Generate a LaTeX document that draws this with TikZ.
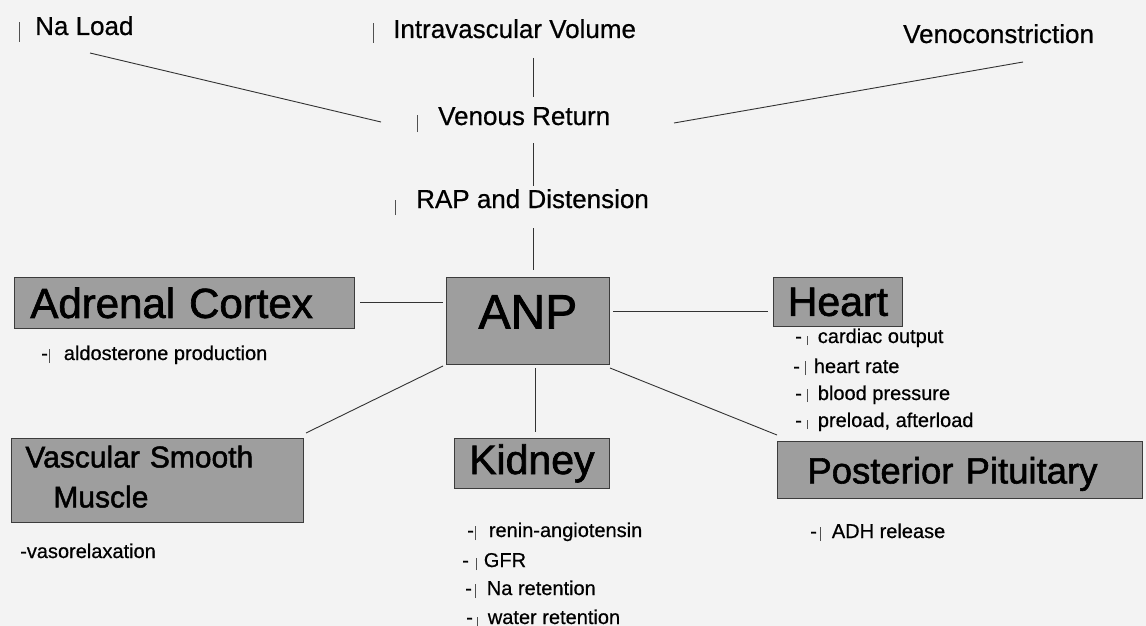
\documentclass[tikz,border=0pt]{standalone}
\usepackage{fontspec}
\setmainfont[FakeBold=0.6]{Liberation Sans}
\newfontfamily\boxfont[FakeBold=1.6]{Liberation Sans}
\definecolor{bg}{RGB}{243,243,243}
\definecolor{boxfill}{RGB}{158,158,158}
\definecolor{boxline}{RGB}{60,60,60}
\definecolor{barc}{RGB}{80,80,80}
\definecolor{linec}{RGB}{50,50,50}
\newcommand{\tbar}[2]{\textcolor{barc}{\rule[-#1pt]{1pt}{#2pt}}}
\begin{document}
\begin{tikzpicture}[x=1pt,y=-1pt,
  toplbl/.style={anchor=base west, inner sep=0pt, font=\fontsize{26}{30}\selectfont},
  item/.style={anchor=base west, inner sep=0pt, font=\fontsize{20}{24}\selectfont},
  organ/.style={draw=boxline, fill=boxfill, line width=0.8pt, inner sep=0pt, anchor=north west},
  conn/.style={draw=linec, line width=0.9pt}]
\fill[bg] (0,0) rectangle (1146,626);
\useasboundingbox (0,0) rectangle (1146,626);

% top labels
\node[toplbl] (nal) at (19,35) {\tbar{7}{20}\hspace{15pt}Na Load};
\node[toplbl] (ivv) at (373,38) {\tbar{5}{20}\hspace{19pt}Intravascular Volume};
\node[toplbl] (vc) at (903,43) {Venoconstriction};
\node[toplbl] (vr) at (417,125) {\tbar{7}{17}\hspace{20pt}Venous Return};
\node[toplbl] (rap) at (395,208) {\tbar{7}{15}\hspace{20pt}RAP and Distension};

% organ boxes
\node[organ, minimum height=51pt, inner xsep=16pt, text width=308pt, align=left,
      font=\boxfont\fontsize{42}{48}\selectfont] (adr) at (14,277) {Adrenal Cortex};
\node[organ, minimum width=163pt, minimum height=87pt, text height=35pt, text depth=20pt,
      font=\boxfont\fontsize{48}{54}\selectfont] (anp) at (446,277) {ANP};
\node[organ, minimum width=129pt, minimum height=49pt,
      font=\boxfont\fontsize{41}{46}\selectfont] (heart) at (773,277) {Heart};
\node[organ, minimum width=155pt, minimum height=50pt,
      font=\boxfont\fontsize{41}{46}\selectfont] (kid) at (454,438) {Kidney};
\node[organ, minimum height=57pt, inner xsep=30pt, text width=305pt, align=left,
      text height=27pt, text depth=0pt,
      font=\boxfont\fontsize{36.5}{42}\selectfont] (pp) at (777,441) {Posterior Pituitary};
\node[organ, minimum height=84pt, inner xsep=14pt, text width=264pt, align=left,
      text height=14pt, text depth=40pt,
      font=\boxfont\fontsize{30}{40}\selectfont] (vsm) at (11,438) {Vascular Smooth\\\hspace*{28pt}Muscle};

% effect lists
\node[item] (ald) at (41,360) {-\hspace{1pt}\tbar{3}{14}\hspace{14pt}aldosterone production};
\node[item] (h1) at (795,343) {-\hspace{5pt}\tbar{2}{9}\hspace{10pt}cardiac output};
\node[item] (h2) at (793,373) {-\hspace{5pt}\tbar{2}{14}\hspace{8pt}heart rate};
\node[item] (h3) at (795,400) {-\hspace{5pt}\tbar{2}{13}\hspace{10pt}blood pressure};
\node[item] (h4) at (795,427) {-\hspace{5pt}\tbar{2}{9}\hspace{10pt}preload, afterload};
\node[item] (vaso) at (20,558) {-vasorelaxation};
\node[item] (adh) at (810,538) {-\hspace{3pt}\tbar{3}{14}\hspace{11pt}ADH release};
\node[item] (k1) at (467,537) {-\hspace{1pt}\tbar{3}{14}\hspace{13pt}renin-angiotensin};
\node[item] (k2) at (462,567) {-\hspace{7pt}\tbar{3}{12}\hspace{7pt}GFR};
\node[item] (k3) at (465,595) {-\hspace{3pt}\tbar{3}{14}\hspace{11pt}Na retention};
\node[item] (k4) at (466,624) {-\hspace{4pt}\tbar{3}{10}\hspace{10pt}water retention};

% connector end points
\coordinate (nalE) at (90,53);
\coordinate (vrW) at (381,122);
\coordinate (ivvS) at (533,58);
\coordinate (vrN) at (533,97);
\coordinate (vcS) at (1023,62);
\coordinate (vrE) at (674,123);
\coordinate (vrS) at (533,143);
\coordinate (rapN) at (533,186);
\coordinate (rapS) at (533,228);
\coordinate (anpN) at (533,270);
\coordinate (adrE) at (360,302);
\coordinate (anpW) at (443,302);
\coordinate (anpE) at (613,311);
\coordinate (heartW) at (768,311);
\coordinate (anpSW) at (443,366);
\coordinate (vsmNE) at (306,433);
\coordinate (anpS) at (535,368);
\coordinate (kidN) at (535,432);
\coordinate (anpSE) at (610,368);
\coordinate (ppNW) at (777,435);

\draw[conn] (nalE) -- (vrW);
\draw[conn] (ivvS) -- (vrN);
\draw[conn] (vcS) -- (vrE);
\draw[conn] (vrS) -- (rapN);
\draw[conn] (rapS) -- (anpN);
\draw[conn] (adrE) -- (anpW);
\draw[conn] (anpE) -- (heartW);
\draw[conn] (anpSW) -- (vsmNE);
\draw[conn] (anpS) -- (kidN);
\draw[conn] (anpSE) -- (ppNW);
\end{tikzpicture}
\end{document}
